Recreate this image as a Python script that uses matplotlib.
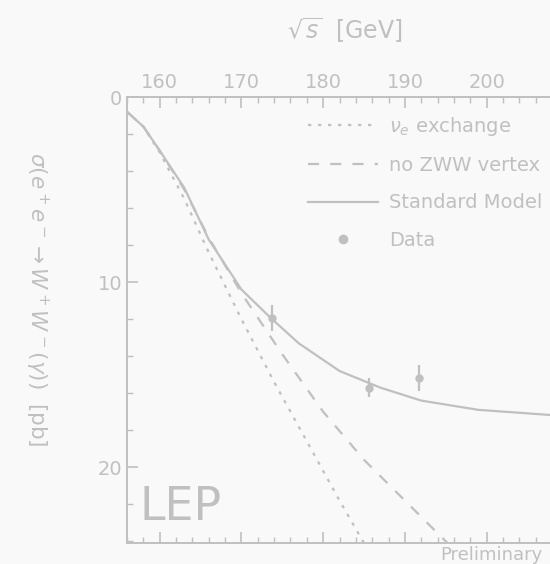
import matplotlib.pyplot as plt
from matplotlib.ticker import MultipleLocator
from matplotlib.lines import Line2D

sm_energy = [156.0, 158.0, 160.0, 163.0, 166.0, 170.0, 173.5, 177.0, 182.0, 187.0, 192.0, 199.0, 208.5]
sm_xsec = [0.8, 1.6, 2.9, 4.9, 7.7, 10.4, 11.9, 13.3, 14.8, 15.7, 16.4, 16.9, 17.2]

nozww_energy = [156.0, 158.0, 160.0, 163.0, 166.0, 170.0, 175.0, 180.0, 185.0, 190.0, 195.0, 198.0]
nozww_xsec = [0.8, 1.6, 2.9, 5.0, 7.6, 10.6, 13.9, 17.0, 19.6, 21.8, 24.0, 25.2]

nue_energy = [156.0, 158.0, 160.0, 163.0, 166.0, 170.0, 174.0, 178.0, 182.0, 185.0, 187.0]
nue_xsec = [0.8, 1.6, 3.0, 5.5, 8.4, 12.0, 15.4, 18.6, 21.8, 24.1, 25.5]

data_energy = [173.7, 185.6, 191.7]
data_xsec = [11.95, 15.7, 15.2]
data_err = [0.7, 0.5, 0.7]

x_ticks = [160, 170, 180, 190, 200]
y_ticks = [0, 10, 20]

fg = "#c0c0c0"
bg = "#f9f9f9"

fig = plt.figure(figsize=(5.5, 5.64), dpi=100, facecolor=bg)
ax = fig.add_axes([0.231, 0.037, 0.78, 0.791], facecolor=bg)

ax.plot(sm_energy, sm_xsec, color=fg, lw=1.6, ls="-")
ax.plot(nozww_energy, nozww_xsec, color=fg, lw=1.6, ls=(0, (5, 5)))
ax.plot(nue_energy, nue_xsec, color=fg, lw=1.6, ls=(0, (1.5, 3)))
ax.errorbar(data_energy, data_xsec, yerr=data_err, fmt="o", ms=5,
            color=fg, ecolor=fg, elinewidth=1.6, capsize=0)

ax.set_xlim(156, 208.5)
ax.set_ylim(24.1, 0)

ax.xaxis.tick_top()
ax.set_xticks(x_ticks)
ax.set_yticks(y_ticks)
ax.xaxis.set_minor_locator(MultipleLocator(2))
ax.yaxis.set_minor_locator(MultipleLocator(2))
ax.tick_params(which="both", direction="in", colors=fg, labelsize=14,
               top=True, bottom=True, left=True, right=False,
               labeltop=True, labelbottom=False)
ax.tick_params(which="major", length=8, width=1.2)
ax.tick_params(which="minor", length=4, width=1.0)
for s in ax.spines.values():
    s.set_color(fg)
    s.set_linewidth(1.4)

fig.text(0.627, 0.947, r"$\sqrt{s}$  [GeV]", color=fg, fontsize=17,
         ha="center", va="center")
fig.text(0.066, 0.47, r"$\sigma(e^+e^-\rightarrow W^+W^-(\gamma))$  [pb]",
         color=fg, fontsize=15.5, rotation=270, ha="center", va="center")

ax.text(0.03, 0.03, "LEP", transform=ax.transAxes, color=fg, fontsize=33,
        ha="left", va="bottom")
fig.text(0.80, 0.0, "Preliminary", color=fg, fontsize=13, ha="left", va="bottom")

handles = [
    Line2D([], [], color=fg, lw=1.6, ls=(0, (1.5, 3))),
    Line2D([], [], color=fg, lw=1.6, ls=(0, (5, 5))),
    Line2D([], [], color=fg, lw=1.6, ls="-"),
    Line2D([], [], color=fg, marker="o", ms=6, ls="none"),
]
labels = [r"$\nu_e$ exchange", "no ZWW vertex", "Standard Model", "Data"]
leg = ax.legend(handles, labels, loc="upper left", bbox_to_anchor=(0.38, 1.0),
                frameon=False, fontsize=14, handlelength=3.6, labelspacing=0.95,
                handletextpad=0.6)
for t in leg.get_texts():
    t.set_color(fg)

fig.savefig("out.png", dpi=100, facecolor=bg)
